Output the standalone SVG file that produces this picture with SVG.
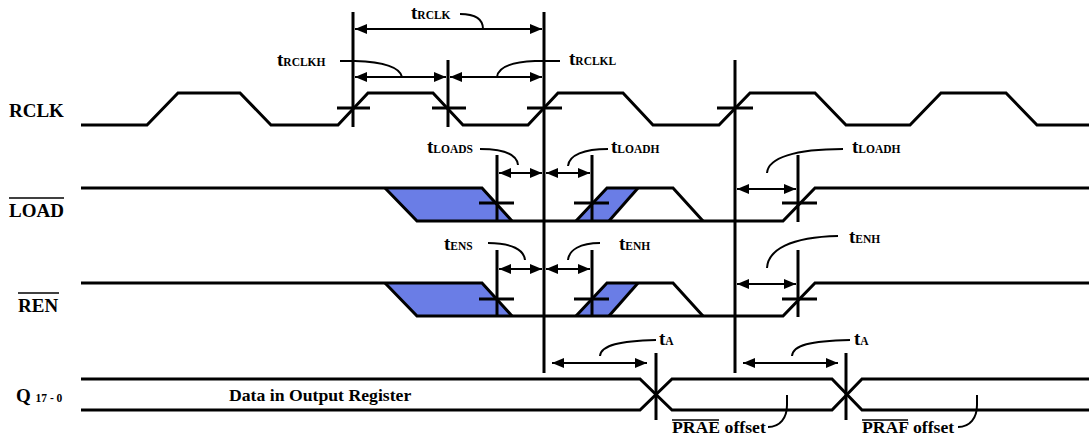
<svg xmlns="http://www.w3.org/2000/svg" width="1089" height="439" viewBox="0 0 1089 439">
<defs>
<marker id="ah" markerUnits="userSpaceOnUse" markerWidth="13" markerHeight="11" refX="12" refY="5" orient="auto-start-reverse">
<path d="M0,0 L12,5 L0,10 Z" fill="#000"/>
</marker>
<style>
.w{fill:none;stroke:#000;stroke-width:3;stroke-linejoin:miter}
.v{stroke:#000;stroke-width:3}
.dim{stroke:#000;stroke-width:2;marker-start:url(#ah);marker-end:url(#ah)}
.ld{fill:none;stroke:#000;stroke-width:2}
.blue{fill:#6a7de6;stroke:none}
.lbl{font-family:"Liberation Serif",serif;font-weight:bold;font-size:19px;fill:#000}
.t{font-family:"Liberation Serif",serif;font-weight:bold;font-size:19px;fill:#000}
.s{font-size:11.5px}
.txt{font-family:"Liberation Serif",serif;font-weight:bold;font-size:17.7px;fill:#000}
.ov{stroke:#000;stroke-width:1.5}
</style>
</defs>
<rect width="1089" height="439" fill="#fff"/>

<g id="signal-labels">
<text class="lbl" x="9" y="117">RCLK</text>
<text class="lbl" x="9" y="217">LOAD</text>
<line class="ov" x1="9" y1="198" x2="64" y2="198"/>
<text class="lbl" x="18" y="312">REN</text>
<line class="ov" x1="18" y1="293" x2="59" y2="293"/>
<text class="lbl" x="16" y="402">Q <tspan font-size="11.5px">17 - 0</tspan></text>
</g>

<g id="rclk">
<path class="w" d="M81,125 H147 L178,93 H240 L271,125 H338 L368,93 H433 L463,125 H528 L558,93 H623 L653,125 H719 L750,93 H815 L846,125 H910 L941,93 H1006 L1037,125 H1089"/>
</g>

<g id="load">
<polygon class="blue" points="385,188 482,188 512,221 417,221"/>
<polygon class="blue" points="576,221 607,188 638,188 609,221"/>
<path class="w" d="M81,188 H482 L512,221"/>
<path class="w" d="M385,188 L417,221 H783 L815,188 H1089"/>
<path class="w" d="M576,221 L607,188 H673 L703,221"/>
<path class="w" d="M609,221 L638,188"/>
</g>

<g id="ren">
<polygon class="blue" points="385,283 482,283 512,316 417,316"/>
<polygon class="blue" points="576,316 607,283 638,283 609,316"/>
<path class="w" d="M81,283 H482 L512,316"/>
<path class="w" d="M385,283 L417,316 H783 L815,283 H1089"/>
<path class="w" d="M576,316 L607,283 H673 L703,316"/>
<path class="w" d="M609,316 L638,283"/>
</g>

<g id="q">
<path class="w" d="M81,379 H640 L672,410 H832 L862,379 H1089"/>
<path class="w" d="M81,410 H640 L672,379 H832 L862,410 H1089"/>
<text class="txt" x="229" y="401">Data in Output Register</text>
<text class="txt" x="672" y="433">PRAE offset</text>
<line class="ov" x1="672" y1="420" x2="719" y2="420"/>
<text class="txt" x="862" y="433">PRAF offset</text>
<line class="ov" x1="862" y1="420" x2="908" y2="420"/>
</g>

<g id="reference-lines">
<line class="v" x1="353" y1="12" x2="353" y2="127"/>
<line class="v" x1="448" y1="60" x2="448" y2="127"/>
<line class="v" x1="544" y1="12" x2="544" y2="373"/>
<line class="v" x1="735" y1="60" x2="735" y2="373"/>
<line class="v" x1="337" y1="108" x2="370" y2="108"/>
<line class="v" x1="432" y1="108" x2="466" y2="108"/>
<line class="v" x1="527" y1="108" x2="562" y2="108"/>
<line class="v" x1="717" y1="108" x2="753" y2="108"/>

<line class="v" x1="497" y1="155" x2="497" y2="222"/>
<line class="v" x1="592" y1="155" x2="592" y2="222"/>
<line class="v" x1="798" y1="155" x2="798" y2="222"/>
<line class="v" x1="479" y1="203" x2="514" y2="203"/>
<line class="v" x1="574" y1="203" x2="609" y2="203"/>
<line class="v" x1="782" y1="203" x2="817" y2="203"/>

<line class="v" x1="497" y1="250" x2="497" y2="317"/>
<line class="v" x1="592" y1="250" x2="592" y2="317"/>
<line class="v" x1="798" y1="250" x2="798" y2="317"/>
<line class="v" x1="479" y1="299" x2="514" y2="299"/>
<line class="v" x1="574" y1="299" x2="609" y2="299"/>
<line class="v" x1="782" y1="299" x2="817" y2="299"/>

<line class="v" x1="656" y1="353" x2="656" y2="420"/>
<line class="v" x1="846" y1="353" x2="846" y2="420"/>
</g>

<g id="connectors">
<line class="dim" x1="355" y1="29" x2="542" y2="29"/>
<line class="dim" x1="355" y1="77" x2="446" y2="77"/>
<line class="dim" x1="450" y1="77" x2="542" y2="77"/>
<line class="dim" x1="499" y1="173" x2="542" y2="173"/>
<line class="dim" x1="546" y1="173" x2="590" y2="173"/>
<line class="dim" x1="737" y1="189" x2="796" y2="189"/>
<line class="dim" x1="499" y1="269" x2="542" y2="269"/>
<line class="dim" x1="546" y1="269" x2="590" y2="269"/>
<line class="dim" x1="737" y1="284" x2="796" y2="284"/>
<line class="dim" x1="552" y1="363" x2="647" y2="363"/>
<line class="dim" x1="743" y1="363" x2="838" y2="363"/>

<path class="ld" d="M460,14 C476,14 483,20 483,29"/>
<path class="ld" d="M340,61 H355 C385,62 400,68 402,77"/>
<path class="ld" d="M560,61 H535 C510,62 498,68 497,77"/>
<path class="ld" d="M480,149 C505,149 517,155 518,165"/>
<path class="ld" d="M608,149 C584,149 569,155 568,166"/>
<path class="ld" d="M843,149 C795,149 768,158 767,173"/>
<path class="ld" d="M488,243 C512,243 524,250 525,260"/>
<path class="ld" d="M600,243 C580,243 569,250 568,260"/>
<path class="ld" d="M838,236 C790,237 768,250 767,268"/>
<path class="ld" d="M656,340 C620,341 601,345 600,356"/>
<path class="ld" d="M850,340 C810,341 793,345 792,356"/>
<path class="ld" d="M768,427 C780,427 787,418 787,405 V395"/>
<path class="ld" d="M958,427 C970,427 977,418 977,405 V395"/>
</g>

<g id="timing-labels">
<text class="t" x="411" y="19">t<tspan class="s">RCLK</tspan></text>
<text class="t" x="277" y="66">t<tspan class="s">RCLKH</tspan></text>
<text class="t" x="569" y="65">t<tspan class="s">RCLKL</tspan></text>
<text class="t" x="427" y="153">t<tspan class="s">LOADS</tspan></text>
<text class="t" x="611" y="153">t<tspan class="s">LOADH</tspan></text>
<text class="t" x="852" y="153">t<tspan class="s">LOADH</tspan></text>
<text class="t" x="444" y="250">t<tspan class="s">ENS</tspan></text>
<text class="t" x="619" y="250">t<tspan class="s">ENH</tspan></text>
<text class="t" x="849" y="243">t<tspan class="s">ENH</tspan></text>
<text class="t" x="659" y="345">t<tspan class="s">A</tspan></text>
<text class="t" x="854" y="345">t<tspan class="s">A</tspan></text>
</g>
</svg>
